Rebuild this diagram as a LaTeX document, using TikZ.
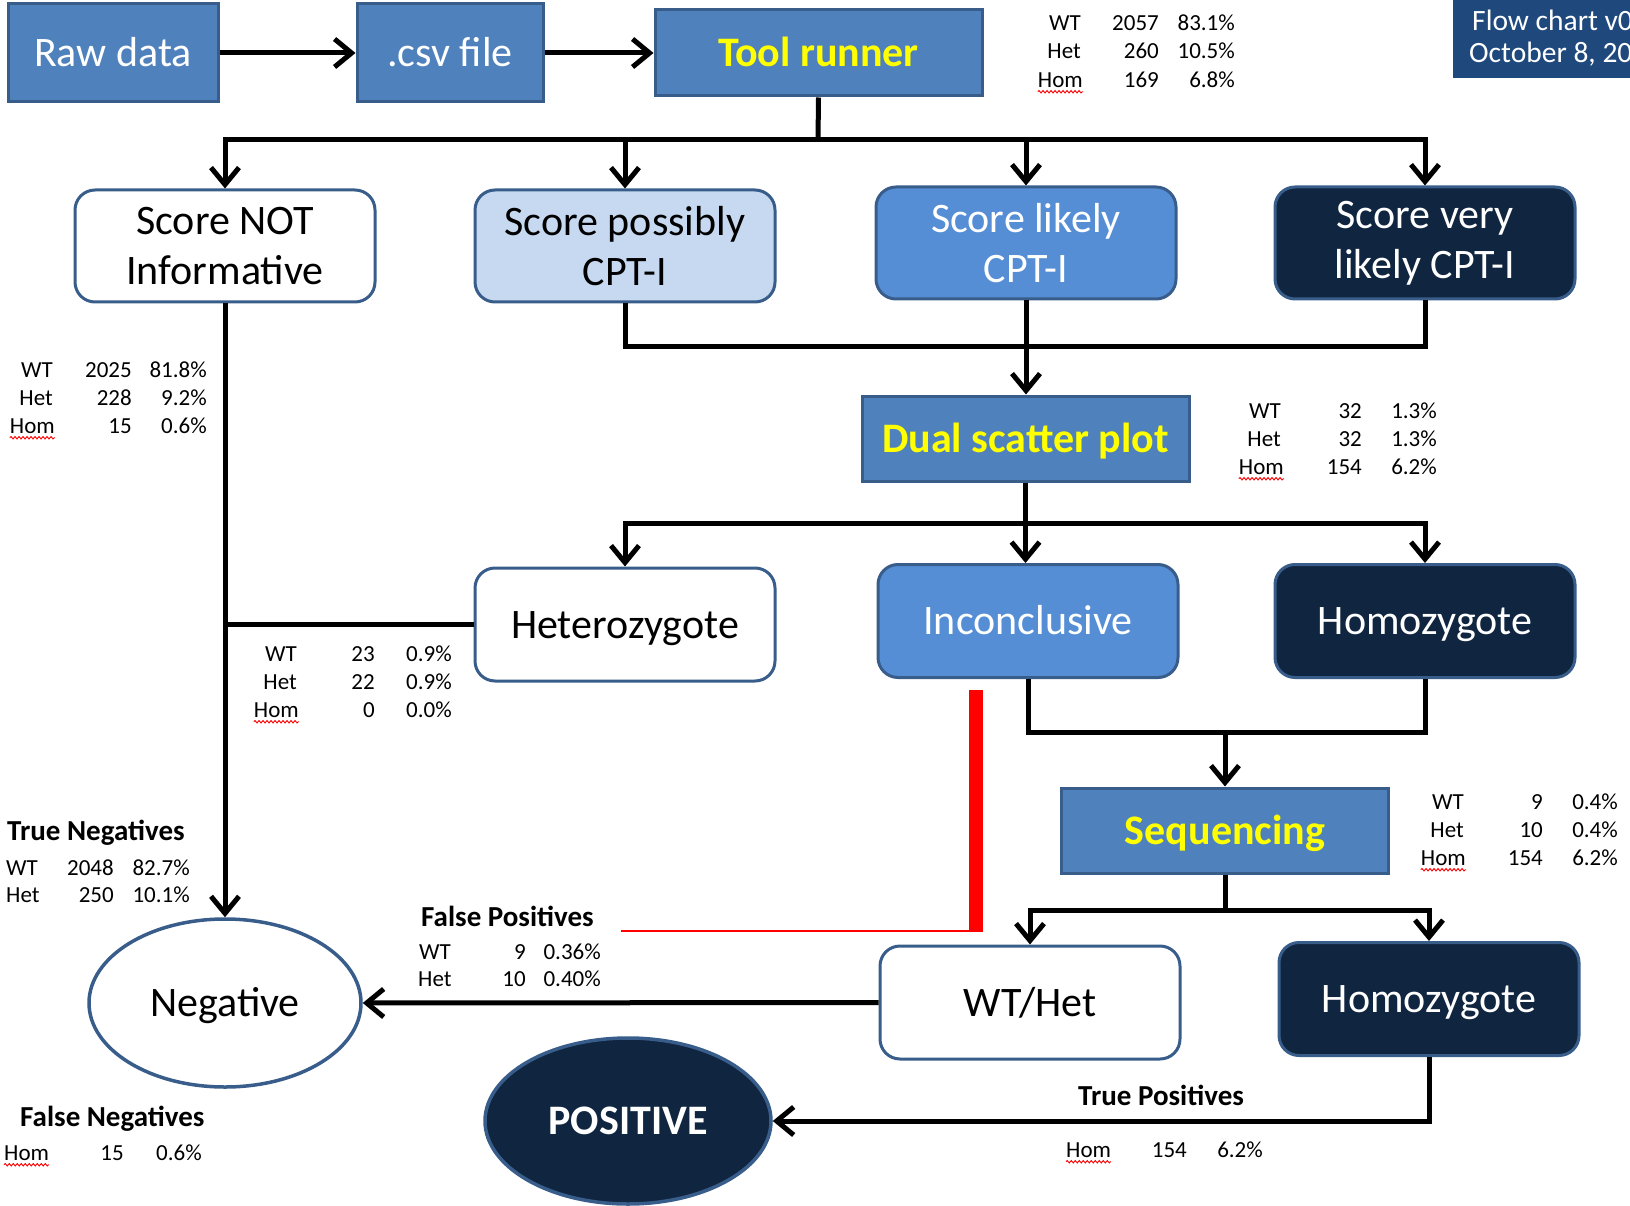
\documentclass[tikz,border=0pt]{standalone}
\usepackage{fontspec}
\setmainfont{Carlito}
\usetikzlibrary{arrows.meta,shapes.geometric,decorations.pathmorphing}
\definecolor{bordc}{HTML}{385D8A}
\definecolor{midblue}{HTML}{4F81BD}
\definecolor{lightblue}{HTML}{C6D9F1}
\definecolor{likeblue}{HTML}{558ED5}
\definecolor{navy}{HTML}{10253F}
\definecolor{flowc}{HTML}{1F497D}
\definecolor{ylw}{HTML}{FFFF00}
\begin{document}
\begin{tikzpicture}[x=1pt,y=-1pt,
  sqbox/.style={rectangle, draw=bordc, line width=3pt, fill=midblue, inner sep=0pt, align=center, font=\fontsize{42}{50}\selectfont},
  rbox/.style={sqbox, rounded corners=20pt, minimum width=300pt, minimum height=112pt},
  widebox/.style={sqbox, minimum width=327pt, minimum height=85pt},
  oneline/.style={text height=27pt, text depth=0pt},
  wtxt/.style={text=white},
  ytxt/.style={text=ylw, font=\fontsize{42}{50}\selectfont\bfseries},
  conn/.style={line width=5pt, draw=black},
  arr/.style={-{Straight Barb[length=17pt,width=28pt]}},
  stat/.style={font=\fontsize{23}{27}\selectfont, inner sep=0pt},
  slab/.style={font=\fontsize{29}{34}\selectfont\bfseries, inner sep=0pt},
  wavy/.style={draw=red, line width=0.9pt, decorate, decoration={snake, amplitude=1.2pt, segment length=4pt}}
]
\useasboundingbox (0,0) rectangle (1630,1206);
\clip (0,0) rectangle (1630,1206);

% top flow-chart label
\fill[flowc] (1453,0) rectangle (1650,78);
\node[anchor=mid west, text=white, font=\fontsize{29.5}{34}\selectfont, inner sep=0pt] (fc1) at (1472,28) {Flow chart v0};
\node[anchor=mid west, text=white, font=\fontsize{29.5}{34}\selectfont, inner sep=0pt] (fc2) at (1469,60) {October 8, 20};

% top row
\node[sqbox, wtxt, oneline, minimum width=210pt, minimum height=98pt] (raw) at (113,53) {Raw data};
\node[sqbox, wtxt, oneline, minimum width=186pt, minimum height=98pt] (csv) at (450,53) {.csv file};
\node[widebox, ytxt, oneline, minimum height=86pt] (tool) at (818.5,53) {Tool runner};

% score row
\node[rbox, fill=white] (snot) at (225,246) {Score NOT\\Informative};
\node[rbox, fill=lightblue] (sposs) at (625,246) {Score possibly\\CPT-I};
\node[rbox, fill=likeblue, wtxt] (slik) at (1026,243) {Score likely\\CPT-I};
\node[rbox, fill=navy, wtxt] (svlik) at (1425,243) {Score very\\likely CPT-I};

\node[widebox, ytxt, oneline] (dual) at (1025.5,438.5) {Dual scatter plot};

% genotype row
\node[rbox, fill=white, oneline, minimum height=113pt] (het) at (625,624.5) {Heterozygote};
\node[rbox, fill=likeblue, wtxt, oneline, minimum height=113pt] (inc) at (1028,621) {Inconclusive};
\node[rbox, fill=navy, wtxt, oneline, minimum height=113pt] (hom1) at (1425,621) {Homozygote};

\node[widebox, ytxt, oneline] (seq) at (1225,830.5) {Sequencing};

\node[rbox, fill=white, oneline, minimum height=113pt] (wthet) at (1030,1002.5) {WT/Het};
\node[rbox, fill=navy, wtxt, oneline, minimum height=113pt] (hom2) at (1429,999) {Homozygote};

\node[ellipse, draw=bordc, line width=3.5pt, fill=white, oneline, minimum width=272pt, minimum height=168pt, inner sep=0pt, font=\fontsize{42}{50}\selectfont] (neg) at (225,1003) {Negative};
\node[ellipse, draw=bordc, line width=3.5pt, fill=navy, text=white, oneline, minimum width=286pt, minimum height=166pt, inner sep=0pt, font=\fontsize{42}{50}\selectfont\bfseries] (pos) at (628,1121) {POSITIVE};

% connectors
\coordinate (j1) at (818,140);
\coordinate (j2) at (1026,346);
\coordinate (j3) at (1025.5,523);
\coordinate (j4) at (1225,732);
\coordinate (j5) at (1225,910);

\draw[conn, arr] (raw.east) -- (csv.west);
\draw[conn, arr] (csv.east) -- (tool.west);

\draw[conn] (tool.south) -- (j1);
\draw[conn, arr] (j1) -| (snot.north);
\draw[conn, arr] (j1) -| (svlik.north);
\draw[conn, arr] (sposs.north |- j1) -- (sposs.north);
\draw[conn, arr] (slik.north |- j1) -- (slik.north);

\draw[conn] (sposs.south) |- (svlik.south |- j2) -- (svlik.south);
\draw[conn, arr] (slik.south) -- (slik.south |- dual.north);

\draw[conn] (dual.south) -- (j3);
\draw[conn, arr] (j3) -| (het.north);
\draw[conn, arr] (j3) -| (hom1.north);
\draw[conn, arr] (j3) -- (j3 |- inc.north);

\draw[conn, arr] (snot.south) -- (neg.north);
\draw[conn] (het.west) -- (het.west -| snot.south);

\draw[conn] (inc.south) |- (hom1.south |- j4) -- (hom1.south);
\draw[conn, arr] (j4) -- (seq.north);

\draw[conn] (seq.south) -- (j5);
\draw[conn, arr] (j5) -| (wthet.north);
\draw[conn, arr] (j5) -| (hom2.north);

\draw[conn, arr] (wthet.west) -- (neg.east);
\draw[conn, arr] (hom2.south) |- (pos.east);

% red marks
\coordinate (r1) at (976,690);
\coordinate (r2) at (976,932);
\coordinate (r3) at (621,931);
\draw[red, line width=14pt] (r1) -- (r2);
\draw[red, line width=2pt] (r3) -- (r3 -| r1);

\begin{scope}[yshift=-5pt]
% stats: tool runner
\node[stat, anchor=mid east] at (1081,23) {WT};
\node[stat, anchor=mid east] at (1159,23) {2057};
\node[stat, anchor=mid east] at (1235,23) {83.1\%};
\node[stat, anchor=mid east] at (1081,51) {Het};
\node[stat, anchor=mid east] at (1159,51) {260};
\node[stat, anchor=mid east] at (1235,51) {10.5\%};
\node[stat, anchor=mid east] (h1) at (1083,80) {Hom};
\node[stat, anchor=mid east] at (1159,80) {169};
\node[stat, anchor=mid east] at (1235,80) {6.8\%};

% stats: score not informative
\node[stat, anchor=mid east] at (53,370) {WT};
\node[stat, anchor=mid east] at (132,370) {2025};
\node[stat, anchor=mid east] at (207,370) {81.8\%};
\node[stat, anchor=mid east] at (53,398) {Het};
\node[stat, anchor=mid east] at (132,398) {228};
\node[stat, anchor=mid east] at (207,398) {9.2\%};
\node[stat, anchor=mid east] (h2) at (55,426) {Hom};
\node[stat, anchor=mid east] at (132,426) {15};
\node[stat, anchor=mid east] at (207,426) {0.6\%};

% stats: dual scatter
\node[stat, anchor=mid east] at (1281,411) {WT};
\node[stat, anchor=mid east] at (1362,411) {32};
\node[stat, anchor=mid east] at (1437,411) {1.3\%};
\node[stat, anchor=mid east] at (1281,439) {Het};
\node[stat, anchor=mid east] at (1362,439) {32};
\node[stat, anchor=mid east] at (1437,439) {1.3\%};
\node[stat, anchor=mid east] (h3) at (1284,467) {Hom};
\node[stat, anchor=mid east] at (1362,467) {154};
\node[stat, anchor=mid east] at (1437,467) {6.2\%};

% stats: heterozygote
\node[stat, anchor=mid east] at (297,654) {WT};
\node[stat, anchor=mid east] at (375,654) {23};
\node[stat, anchor=mid east] at (452,654) {0.9\%};
\node[stat, anchor=mid east] at (297,682) {Het};
\node[stat, anchor=mid east] at (375,682) {22};
\node[stat, anchor=mid east] at (452,682) {0.9\%};
\node[stat, anchor=mid east] (h4) at (299,710) {Hom};
\node[stat, anchor=mid east] at (375,710) {0};
\node[stat, anchor=mid east] at (452,710) {0.0\%};

% stats: sequencing
\node[stat, anchor=mid east] at (1464,802) {WT};
\node[stat, anchor=mid east] at (1543,802) {9};
\node[stat, anchor=mid east] at (1618,802) {0.4\%};
\node[stat, anchor=mid east] at (1464,830) {Het};
\node[stat, anchor=mid east] at (1543,830) {10};
\node[stat, anchor=mid east] at (1618,830) {0.4\%};
\node[stat, anchor=mid east] (h5) at (1466,858) {Hom};
\node[stat, anchor=mid east] at (1543,858) {154};
\node[stat, anchor=mid east] at (1618,858) {6.2\%};

% true negatives
\node[stat, anchor=mid west] at (6,868) {WT};
\node[stat, anchor=mid east] at (114,868) {2048};
\node[stat, anchor=mid east] at (190,868) {82.7\%};
\node[stat, anchor=mid west] at (6,895) {Het};
\node[stat, anchor=mid east] at (114,895) {250};
\node[stat, anchor=mid east] at (190,895) {10.1\%};

% false positives
\node[stat, anchor=mid west] at (419,952) {WT};
\node[stat, anchor=mid east] at (526,952) {9};
\node[stat, anchor=mid east] at (601,952) {0.36\%};
\node[stat, anchor=mid west] at (418,979) {Het};
\node[stat, anchor=mid east] at (526,979) {10};
\node[stat, anchor=mid east] at (601,979) {0.40\%};

% false negatives
\node[stat, anchor=mid west] (h6) at (4,1153) {Hom};
\node[stat, anchor=mid east] at (124,1153) {15};
\node[stat, anchor=mid east] at (202,1153) {0.6\%};

% true positives
\node[stat, anchor=mid west] (h7) at (1066,1150) {Hom};
\node[stat, anchor=mid east] at (1187,1150) {154};
\node[stat, anchor=mid east] at (1263,1150) {6.2\%};
\end{scope}

\begin{scope}[yshift=-6pt]
\node[slab, anchor=mid west] (tneg) at (7,832) {True Negatives};
\node[slab, anchor=mid west] (fpos) at (421,918) {False Positives};
\node[slab, anchor=mid west] (fneg) at (20,1118) {False Negatives};
\node[slab, anchor=mid west] (tpos) at (1078,1097) {True Positives};
\end{scope}

% spell-check underlines
\foreach \h in {h1,h2,h3,h4,h5,h6,h7}
  \draw[wavy] ([yshift=-4pt]\h.south west) -- ([yshift=-4pt]\h.south east);
\end{tikzpicture}
\end{document}
